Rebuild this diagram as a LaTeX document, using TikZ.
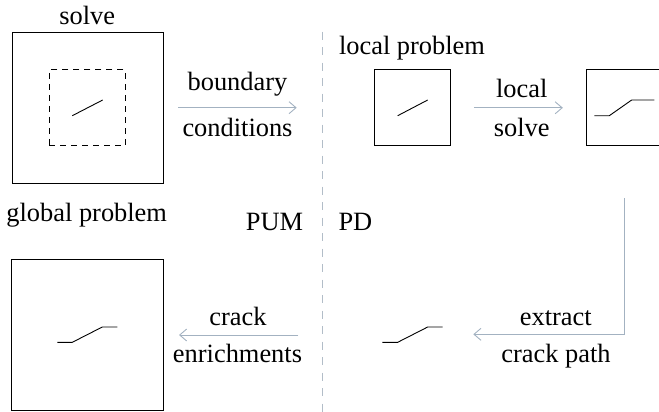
\documentclass[tikz,border=0pt]{standalone}
\usepackage{fontspec}
\setmainfont{Liberation Serif}
\usetikzlibrary{arrows.meta}
\definecolor{arrowc}{RGB}{163,178,193}
\definecolor{sepc}{RGB}{178,189,200}
\begin{document}
\begin{tikzpicture}[x=1pt,y=-1pt,
  font=\fontsize{26.4}{30}\selectfont,
  boxn/.style={draw=black, line width=0.9pt, minimum size=#1, inner sep=0pt},
  dboxn/.style={boxn=#1, dash pattern=on 6pt off 5pt},
  lbl/.style={inner sep=0pt, anchor=base},
  conn/.style={draw=arrowc, line width=0.9pt, -{Straight Barb[length=7pt,width=12pt,line width=0.9pt]}},
  crackl/.style={draw=black, line width=0.9pt},
  sepl/.style={draw=sepc, line width=1.2pt, dash pattern=on 8pt off 7.5pt}]
\clip (0,0) rectangle (659,412);

% boxes
\node[boxn=151] (G1) at (87.5,107.8) {};
\node[dboxn=76] (D1) at (87.3,107.8) {};
\node[boxn=76] (L1) at (412.3,107.8) {};
\node[boxn=76] (L2) at (624.7,107.8) {};
\node[boxn=151.4] (G2) at (87.5,335) {};

% cracks
\draw[crackl] (72.3,115.7) -- (102.7,100);
\draw[crackl] (397.7,115.7) -- (427.7,100);
\draw[crackl] (594.3,115.7) -- (609.3,115.7) -- (631.7,100) -- (654.3,100);
\draw[crackl] (382.3,342.3) -- (397.7,342.3) -- (427.7,327) -- (442.7,327);
\draw[crackl] (57.3,342.3) -- (72.3,342.3) -- (102.3,327) -- (117.3,327);

% separator
\draw[sepl] (322.7,31.7) -- (322.7,412);

% texts
\node[lbl] (tsolve) at (87.3,25) {solve};
\node[lbl] (tbound) at (237.5,90.7) {boundary};
\node[lbl] (tcond) at (237.5,136.7) {conditions};
\node[lbl] (tlocp) at (412,55) {local problem};
\node[lbl] (tlocal) at (521.7,97.3) {local};
\node[lbl] (tlsolve) at (521.7,136) {solve};
\node[lbl] (tglob) at (86.7,221.7) {global problem};
\node[lbl, anchor=base east] (tpum) at (303.3,230.3) {PUM};
\node[lbl, anchor=base west] (tpd) at (338.3,230.3) {PD};
\node[lbl] (tcrack) at (238,325) {crack};
\node[lbl] (tenr) at (237.5,362.3) {enrichments};
\node[lbl] (textr) at (555.8,325) {extract};
\node[lbl] (tpath) at (556,362.3) {crack path};

% connectors
\coordinate (a1s) at (178.3,107.7);
\coordinate (a1e) at (296.7,107.7);
\draw[conn] (a1s) -- (a1e);
\draw[conn] ([xshift=23pt]L1.east) -- ([xshift=-23.4pt]L2.west);
\coordinate (e0) at (624.5,198);
\coordinate (e1) at (473.3,334.3);
\draw[conn] (e0) |- (e1);
\coordinate (c0) at (298.3,335);
\coordinate (c1) at (179,335);
\draw[conn] (c0) -- (c1);
\end{tikzpicture}
\end{document}
